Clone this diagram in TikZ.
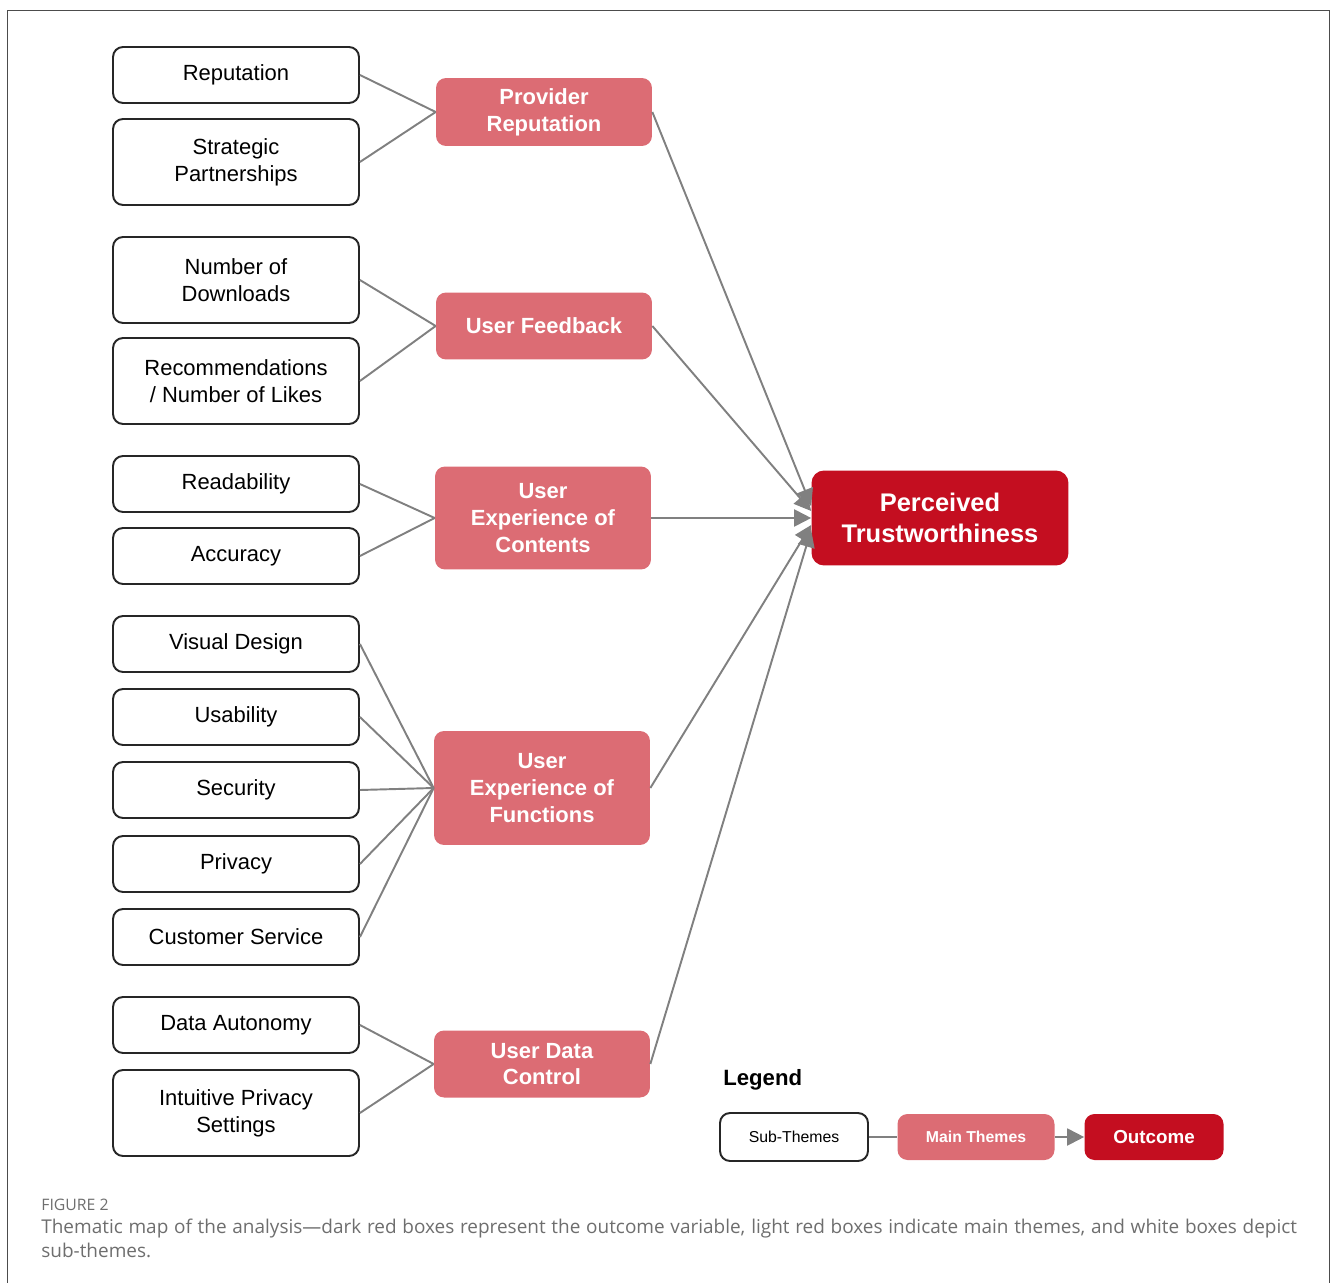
\documentclass[tikz,border=0pt]{standalone}
\usepackage{fontspec}
\setmainfont{Liberation Sans}
\newfontfamily\capfont{Open Sans}
\usetikzlibrary{arrows.meta}
\definecolor{themered}{RGB}{220,108,116}
\definecolor{outred}{RGB}{196,14,32}
\definecolor{linkgray}{RGB}{128,128,128}
\definecolor{capgray}{RGB}{110,110,110}
\tikzset{
  sub/.style={draw=black!85, line width=1.1pt, rounded corners=0.2cm, fill=white,
    minimum width=4.92cm, minimum height=1.12cm, inner sep=0pt, align=center,
    font=\fontsize{12.5}{15.3}\selectfont},
  main/.style={fill=themered, rounded corners=0.2cm, minimum width=4.32cm,
    inner sep=0pt, align=center, text=white,
    font=\bfseries\fontsize{12.5}{15.3}\selectfont},
  outcome/.style={fill=outred, rounded corners=0.25cm, minimum width=5.14cm,
    minimum height=1.9cm, inner sep=0pt, align=center, text=white,
    font=\bfseries\fontsize{14.5}{17.6}\selectfont},
  link/.style={draw=linkgray, line width=1.1pt},
  arrow/.style={link, -{Triangle[length=3.4mm,width=3.4mm]}}
}
\begin{document}
\begin{tikzpicture}[x=0.02cm,y=-0.02cm]
  \useasboundingbox (0,0) rectangle (1331,1283);
  \draw[black!70, line width=0.5pt] (7,1283) -- (7,10) -- (1329,10) -- (1329,1283);

  % sub-themes
  \node[sub] (rep) at (236,75) {Reputation};
  \node[sub, minimum height=1.72cm] (strat) at (236,162) {Strategic\\Partnerships};
  \node[sub, minimum height=1.72cm] (down) at (236,280) {Number of\\Downloads};
  \node[sub, minimum height=1.72cm] (likes) at (236,381) {Recommendations\\/ Number of Likes};
  \node[sub] (read) at (236,484) {Readability};
  \node[sub] (acc) at (236,556) {Accuracy};
  \node[sub] (vis) at (236,644) {Visual Design};
  \node[sub] (usab) at (236,717) {Usability};
  \node[sub] (sec) at (236,790) {Security};
  \node[sub] (priv) at (236,864) {Privacy};
  \node[sub] (cust) at (236,937) {Customer Service};
  \node[sub] (auto) at (236,1025) {Data Autonomy};
  \node[sub, minimum height=1.72cm] (sett) at (236,1113) {Intuitive Privacy\\Settings};

  % main themes
  \node[main, minimum height=1.36cm] (prov) at (544,112) {Provider\\Reputation};
  \node[main, minimum height=1.34cm] (feed) at (544,326) {User Feedback};
  \node[main, minimum height=2.06cm] (cont) at (543,518) {User\\Experience of\\Contents};
  \node[main, minimum height=2.28cm] (func) at (542,788) {User\\Experience of\\Functions};
  \node[main, minimum height=1.34cm] (data) at (542,1064) {User Data\\Control};

  % outcome
  \node[outcome] (trust) at (940,518) {Perceived\\Trustworthiness};

  \begin{scope}[link]
    \draw (rep.east) -- (prov.west);
    \draw (strat.east) -- (prov.west);
    \draw (down.east) -- (feed.west);
    \draw (likes.east) -- (feed.west);
    \draw (read.east) -- (cont.west);
    \draw (acc.east) -- (cont.west);
    \draw (vis.east) -- (func.west);
    \draw (usab.east) -- (func.west);
    \draw (sec.east) -- (func.west);
    \draw (priv.east) -- (func.west);
    \draw (cust.east) -- (func.west);
    \draw (auto.east) -- (data.west);
    \draw (sett.east) -- (data.west);
  \end{scope}

  \begin{scope}[arrow]
    \draw (prov.east) -- ([yshift=2.4mm]trust.west);
    \draw (feed.east) -- ([yshift=1.4mm]trust.west);
    \draw (cont.east) -- (trust.west);
    \draw (func.east) -- ([yshift=-1.4mm]trust.west);
    \draw (data.east) -- ([yshift=-2.4mm]trust.west);
  \end{scope}

  % legend
  \node[anchor=west, inner sep=0pt, font=\bfseries\fontsize{12.6}{15}\selectfont] (legend) at (723,1080) {Legend};
  \node[sub, minimum width=2.96cm, minimum height=0.96cm, font=\fontsize{9}{11}\selectfont] (lsub) at (794,1137) {Sub-Themes};
  \node[main, minimum width=3.14cm, minimum height=0.92cm, font=\bfseries\fontsize{9}{11}\selectfont] (lmain) at (976,1137) {Main Themes};
  \node[outcome, rounded corners=0.2cm, minimum width=2.78cm, minimum height=0.92cm, font=\bfseries\fontsize{10.7}{13}\selectfont] (lout) at (1154,1137) {Outcome};
  \draw[link] (lsub) -- (lmain);
  \draw[arrow] (lmain) -- (lout);

  % caption
  \node[anchor=west, text=capgray, font=\capfont\fontsize{9}{11}\selectfont, inner sep=0pt] (fig) at (41,1205) {FIGURE 2};
  \node[anchor=north west, text=capgray, text width=25.12cm, align=justify, inner sep=0pt,
    font=\capfont\fontsize{10.8}{13.6}\selectfont] (cap) at (41,1219)
    {Thematic map of the analysis—dark red boxes represent the outcome variable, light red boxes indicate main themes, and white boxes depict sub-themes.};
\end{tikzpicture}
\end{document}
